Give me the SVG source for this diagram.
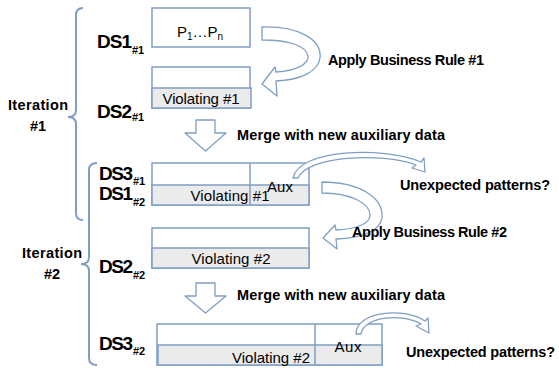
<svg xmlns="http://www.w3.org/2000/svg" width="559" height="368" viewBox="0 0 559 368">
<style>
.box{fill:#ffffff;stroke:#7f9fc4;stroke-width:1.5}
.band{fill:#ebebeb;stroke:#7f9fc4;stroke-width:1.5}
.ln{stroke:#7f9fc4;stroke-width:1.5;fill:none}
.arr{fill:#ffffff;stroke:#7f9fc4;stroke-width:1.3;stroke-linejoin:round}
.brace{fill:none;stroke:#7f9fc4;stroke-width:2}
.lbl{font-family:"Liberation Sans",Arial,sans-serif;font-weight:bold;font-size:14.5px;fill:#000}
.ds{font-family:"Liberation Sans",Arial,sans-serif;font-weight:bold;font-size:19px;fill:#000}
.sub{font-family:"Liberation Sans",Arial,sans-serif;font-weight:bold;font-size:11px;fill:#000}
.in{font-family:"Liberation Sans",Arial,sans-serif;font-size:15px;fill:#000}
</style>
<rect width="559" height="368" fill="#ffffff"/>

<g id="iteration1">
<path class="brace" d="M83,8 Q76,8 76,15 L76,110 Q76,117 68,117 Q76,117 76,124 L76,213 Q76,220 83,220"/>
<text class="lbl" x="38" y="110" text-anchor="middle" textLength="60">Iteration</text>
<text class="lbl" x="38" y="131" text-anchor="middle">#1</text>
</g>
<g id="iteration2">
<path class="brace" d="M97,163 Q89,163 89,170 L89,257 Q89,264 81,264 Q89,264 89,271 L89,358 Q89,365 97,365"/>
<text class="lbl" x="52" y="258" text-anchor="middle" textLength="60">Iteration</text>
<text class="lbl" x="52" y="279" text-anchor="middle">#2</text>
</g>

<g id="ds1-1">
<rect class="box" x="152" y="8" width="98" height="39"/>
<text class="in" x="177" y="37" font-size="16">P<tspan font-size="10" dy="3">1</tspan><tspan dy="-3">…P</tspan><tspan font-size="10" dy="3">n</tspan></text>
<text class="ds" x="97" y="48" textLength="35">DS1</text>
<text class="sub" x="132" y="54">#1</text>
</g>

<g id="ds2-1">
<rect class="box" x="152" y="67" width="98" height="41"/>
<rect class="band" x="152" y="88" width="99" height="20"/>
<text class="in" x="201" y="104" text-anchor="middle" textLength="77">Violating #1</text>
<text class="ds" x="97" y="118" textLength="35">DS2</text>
<text class="sub" x="132" y="121">#1</text>
</g>

<g id="ds3-1">
<rect class="box" x="152" y="163" width="157" height="42"/>
<rect class="band" x="152" y="185" width="157" height="20"/>
<line class="ln" x1="250" y1="163" x2="250" y2="205"/>
<text class="in" x="230" y="201" text-anchor="middle" textLength="79">Violating #1</text>
<text class="in" x="280" y="192" text-anchor="middle" font-size="16" textLength="26">Aux</text>
<text class="ds" x="99" y="180" textLength="34">DS3</text>
<text class="sub" x="133" y="185">#1</text>
<text class="ds" x="99" y="200" textLength="34">DS1</text>
<text class="sub" x="133" y="206">#2</text>
</g>

<g id="ds2-2">
<rect class="box" x="152" y="228" width="157" height="40"/>
<rect class="band" x="152" y="248" width="157" height="20"/>
<text class="in" x="231" y="264" text-anchor="middle" textLength="79">Violating #2</text>
<text class="ds" x="99" y="273" textLength="34">DS2</text>
<text class="sub" x="133" y="279">#2</text>
</g>

<g id="ds3-2">
<rect class="box" x="157" y="324" width="225" height="41"/>
<rect class="band" x="158" y="345" width="224" height="20"/>
<line class="ln" x1="315" y1="324" x2="315" y2="365"/>
<text class="in" x="271" y="363" text-anchor="middle" textLength="78">Violating #2</text>
<text class="in" x="348" y="352" text-anchor="middle" font-size="16" textLength="27">Aux</text>
<text class="ds" x="99" y="350" textLength="34">DS3</text>
<text class="sub" x="133" y="355">#2</text>
</g>

<g id="connectors">
<path class="arr" d="M262,27 C300,26 322,40 320,58 C318,72 300,80 276,81 L277,96 L262,84 L275,67 L276,72 C296,71 309,64 308,56 C306,46 290,40 262,40 Z"/>
<path class="arr" d="M196,120 L215,120 L215,133 L226,133 L205.5,151 L185,133 L196,133 Z"/>
<path class="arr" d="M293,178 C299,149 382,146 421,162 L424,158 L425,172 L412,168 L416,165 C381,152 307,156 298,178 Z"/>
<path class="arr" d="M322,182 C360,182 384,198 382,218 C380,231 362,238 336,239 L337,249 L323,238 L335,225 L336,230 C356,229 370,224 370,215 C370,203 350,193 322,193 Z"/>
<path class="arr" d="M196,283 L215,283 L215,296 L226,296 L205.5,313 L185,296 L196,296 Z"/>
<path class="arr" d="M356,334 C356,311 405,307 425,321 L428,318 L429,333 L416,326 L421,324 C403,313 364,316 361,334 Z"/>
</g>

<g id="labels">
<text class="lbl" x="328" y="65" textLength="156">Apply Business Rule #1</text>
<text class="lbl" x="237" y="140" textLength="208">Merge with new auxiliary data</text>
<text class="lbl" x="400" y="190" textLength="150">Unexpected patterns?</text>
<text class="lbl" x="352" y="237" textLength="155">Apply Business Rule #2</text>
<text class="lbl" x="237" y="300" textLength="208">Merge with new auxiliary data</text>
<text class="lbl" x="406" y="357" textLength="149">Unexpected patterns?</text>
</g>
</svg>
